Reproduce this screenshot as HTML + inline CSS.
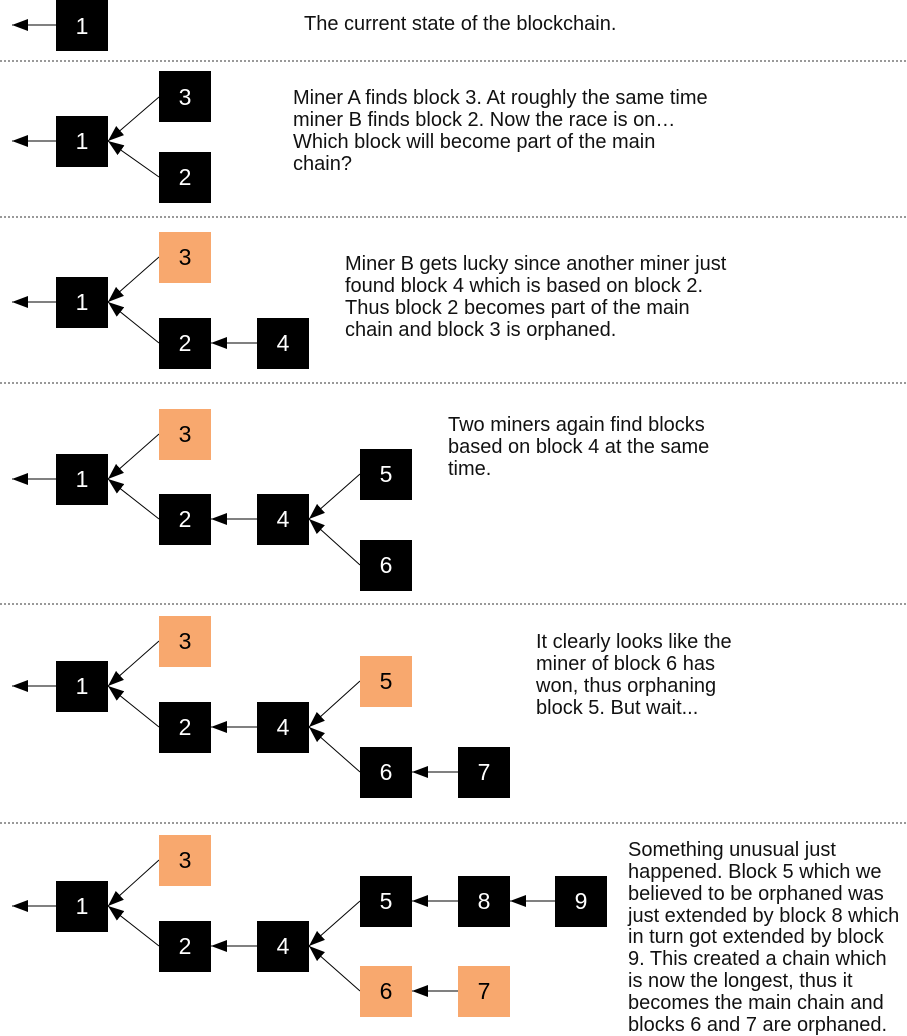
<!DOCTYPE html>
<html><head><meta charset="utf-8"><style>
html,body{margin:0;padding:0;background:#fff;}
svg{display:block;}
.b{fill:#000;}
.o{fill:#f8a86e;}
.n{font-family:"Liberation Sans",sans-serif;font-size:23px;text-anchor:middle;}
.t{font-family:"Liberation Sans",sans-serif;font-size:20px;fill:#111;}
.l{stroke:#000;stroke-width:1;}
.d{stroke:#333;stroke-width:1;stroke-dasharray:2,2;}
</style></head><body>
<svg width="907" height="1036" viewBox="0 0 907 1036" xmlns="http://www.w3.org/2000/svg">
<defs><marker id="a" markerWidth="16" markerHeight="12" refX="16" refY="6" orient="auto" markerUnits="userSpaceOnUse"><path d="M0,0 L16,6 L0,12 z" fill="#000"/></marker></defs>
<g class="d"><line x1="0" y1="61" x2="907" y2="61"/><line x1="0" y1="217" x2="907" y2="217"/><line x1="0" y1="383" x2="907" y2="383"/><line x1="0" y1="604" x2="907" y2="604"/><line x1="0" y1="823" x2="907" y2="823"/></g>

<!-- Section 1 -->
<line class="l" x1="56" y1="25" x2="12" y2="25" marker-end="url(#a)"/>
<rect class="b" x="56" y="0" width="52" height="51"/><text class="n" x="82" y="34" fill="#fff">1</text>
<text class="t" x="304" y="30">The current state of the blockchain.</text>

<!-- Section 2 -->
<line class="l" x1="56" y1="141" x2="12" y2="141" marker-end="url(#a)"/>
<line class="l" x1="159" y1="97" x2="108" y2="141" marker-end="url(#a)"/>
<line class="l" x1="159" y1="177" x2="108" y2="141" marker-end="url(#a)"/>
<rect class="b" x="56" y="116" width="52" height="51"/><text class="n" x="82" y="149" fill="#fff">1</text>
<rect class="b" x="159" y="71" width="52" height="51"/><text class="n" x="185" y="105" fill="#fff">3</text>
<rect class="b" x="159" y="152" width="52" height="51"/><text class="n" x="185" y="185" fill="#fff">2</text>
<text class="t" x="293" y="104">Miner A finds block 3. At roughly the same time</text>
<text class="t" x="293" y="126">miner B finds block 2. Now the race is on…</text>
<text class="t" x="293" y="148">Which block will become part of the main</text>
<text class="t" x="293" y="170">chain?</text>

<!-- Section 3 -->
<line class="l" x1="56" y1="302" x2="12" y2="302" marker-end="url(#a)"/>
<line class="l" x1="159" y1="257" x2="108" y2="302" marker-end="url(#a)"/>
<line class="l" x1="159" y1="343" x2="108" y2="302" marker-end="url(#a)"/>
<line class="l" x1="257" y1="343" x2="211" y2="343" marker-end="url(#a)"/>
<rect class="b" x="56" y="277" width="52" height="51"/><text class="n" x="82" y="310" fill="#fff">1</text>
<rect class="o" x="159" y="232" width="52" height="51"/><text class="n" x="185" y="265" fill="#000">3</text>
<rect class="b" x="159" y="318" width="52" height="51"/><text class="n" x="185" y="351" fill="#fff">2</text>
<rect class="b" x="257" y="318" width="52" height="51"/><text class="n" x="283" y="351" fill="#fff">4</text>
<text class="t" x="345" y="270">Miner B gets lucky since another miner just</text>
<text class="t" x="345" y="292">found block 4 which is based on block 2.</text>
<text class="t" x="345" y="314">Thus block 2 becomes part of the main</text>
<text class="t" x="345" y="336">chain and block 3 is orphaned.</text>

<!-- Section 4 -->
<line class="l" x1="56" y1="479" x2="12" y2="479" marker-end="url(#a)"/>
<line class="l" x1="159" y1="434" x2="108" y2="479" marker-end="url(#a)"/>
<line class="l" x1="159" y1="519" x2="108" y2="479" marker-end="url(#a)"/>
<line class="l" x1="257" y1="519" x2="211" y2="519" marker-end="url(#a)"/>
<line class="l" x1="360" y1="474" x2="309" y2="519" marker-end="url(#a)"/>
<line class="l" x1="360" y1="565" x2="309" y2="519" marker-end="url(#a)"/>
<rect class="b" x="56" y="454" width="52" height="51"/><text class="n" x="82" y="487" fill="#fff">1</text>
<rect class="o" x="159" y="409" width="52" height="51"/><text class="n" x="185" y="442" fill="#000">3</text>
<rect class="b" x="159" y="494" width="52" height="51"/><text class="n" x="185" y="527" fill="#fff">2</text>
<rect class="b" x="257" y="494" width="52" height="51"/><text class="n" x="283" y="527" fill="#fff">4</text>
<rect class="b" x="360" y="449" width="52" height="51"/><text class="n" x="386" y="482" fill="#fff">5</text>
<rect class="b" x="360" y="540" width="52" height="51"/><text class="n" x="386" y="573" fill="#fff">6</text>
<text class="t" x="448" y="431">Two miners again find blocks</text>
<text class="t" x="448" y="453">based on block 4 at the same</text>
<text class="t" x="448" y="475">time.</text>

<!-- Section 5 -->
<line class="l" x1="56" y1="686" x2="12" y2="686" marker-end="url(#a)"/>
<line class="l" x1="159" y1="641" x2="108" y2="686" marker-end="url(#a)"/>
<line class="l" x1="159" y1="727" x2="108" y2="686" marker-end="url(#a)"/>
<line class="l" x1="257" y1="727" x2="211" y2="727" marker-end="url(#a)"/>
<line class="l" x1="360" y1="681" x2="309" y2="727" marker-end="url(#a)"/>
<line class="l" x1="360" y1="772" x2="309" y2="727" marker-end="url(#a)"/>
<line class="l" x1="458" y1="772" x2="412" y2="772" marker-end="url(#a)"/>
<rect class="b" x="56" y="661" width="52" height="51"/><text class="n" x="82" y="694" fill="#fff">1</text>
<rect class="o" x="159" y="616" width="52" height="51"/><text class="n" x="185" y="649" fill="#000">3</text>
<rect class="b" x="159" y="702" width="52" height="51"/><text class="n" x="185" y="735" fill="#fff">2</text>
<rect class="b" x="257" y="702" width="52" height="51"/><text class="n" x="283" y="735" fill="#fff">4</text>
<rect class="o" x="360" y="656" width="52" height="51"/><text class="n" x="386" y="689" fill="#000">5</text>
<rect class="b" x="360" y="747" width="52" height="51"/><text class="n" x="386" y="780" fill="#fff">6</text>
<rect class="b" x="458" y="747" width="52" height="51"/><text class="n" x="484" y="780" fill="#fff">7</text>
<text class="t" x="536" y="648">It clearly looks like the</text>
<text class="t" x="536" y="670">miner of block 6 has</text>
<text class="t" x="536" y="692">won, thus orphaning</text>
<text class="t" x="536" y="714">block 5. But wait...</text>

<!-- Section 6 -->
<line class="l" x1="56" y1="906" x2="12" y2="906" marker-end="url(#a)"/>
<line class="l" x1="159" y1="860" x2="108" y2="906" marker-end="url(#a)"/>
<line class="l" x1="159" y1="946" x2="108" y2="906" marker-end="url(#a)"/>
<line class="l" x1="257" y1="946" x2="211" y2="946" marker-end="url(#a)"/>
<line class="l" x1="360" y1="901" x2="309" y2="946" marker-end="url(#a)"/>
<line class="l" x1="360" y1="991" x2="309" y2="946" marker-end="url(#a)"/>
<line class="l" x1="458" y1="901" x2="412" y2="901" marker-end="url(#a)"/>
<line class="l" x1="555" y1="901" x2="510" y2="901" marker-end="url(#a)"/>
<line class="l" x1="458" y1="991" x2="412" y2="991" marker-end="url(#a)"/>
<rect class="b" x="56" y="881" width="52" height="51"/><text class="n" x="82" y="914" fill="#fff">1</text>
<rect class="o" x="159" y="835" width="52" height="51"/><text class="n" x="185" y="868" fill="#000">3</text>
<rect class="b" x="159" y="921" width="52" height="51"/><text class="n" x="185" y="954" fill="#fff">2</text>
<rect class="b" x="257" y="921" width="52" height="51"/><text class="n" x="283" y="954" fill="#fff">4</text>
<rect class="b" x="360" y="876" width="52" height="51"/><text class="n" x="386" y="909" fill="#fff">5</text>
<rect class="b" x="458" y="876" width="52" height="51"/><text class="n" x="484" y="909" fill="#fff">8</text>
<rect class="b" x="555" y="876" width="52" height="51"/><text class="n" x="581" y="909" fill="#fff">9</text>
<rect class="o" x="360" y="966" width="52" height="51"/><text class="n" x="386" y="999" fill="#000">6</text>
<rect class="o" x="458" y="966" width="52" height="51"/><text class="n" x="484" y="999" fill="#000">7</text>
<text class="t" x="628" y="856">Something unusual just</text>
<text class="t" x="628" y="878">happened. Block 5 which we</text>
<text class="t" x="628" y="900">believed to be orphaned was</text>
<text class="t" x="628" y="922">just extended by block 8 which</text>
<text class="t" x="628" y="943">in turn got extended by block</text>
<text class="t" x="628" y="965">9. This created a chain which</text>
<text class="t" x="628" y="987">is now the longest, thus it</text>
<text class="t" x="628" y="1009">becomes the main chain and</text>
<text class="t" x="628" y="1031">blocks 6 and 7 are orphaned.</text>
</svg>
</body></html>
